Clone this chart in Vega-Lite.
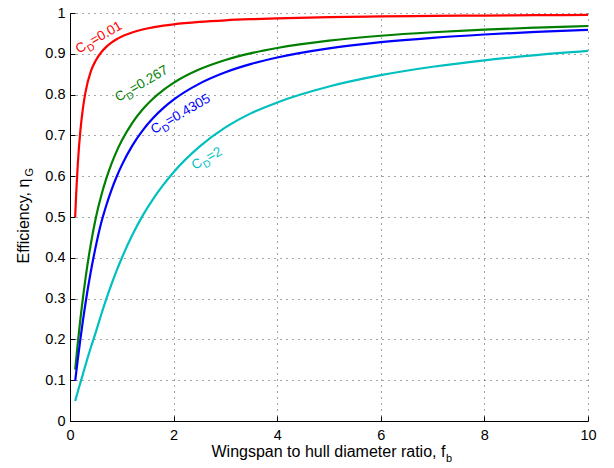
{
  "$schema": "https://vega.github.io/schema/vega-lite/v6.json",
  "width": 518,
  "height": 408,
  "autosize": {"type": "none"},
  "padding": {"left": 70, "top": 13, "right": 26, "bottom": 47},
  "background": "white",
  "config": {
    "view": {"stroke": null},
    "font": "Liberation Sans",
    "text": {"font": "Liberation Sans"},
    "axis": {
      "labelFont": "Liberation Sans",
      "titleFont": "Liberation Sans",
      "labelColor": "#000",
      "titleColor": "#000",
      "titleFontWeight": "normal",
      "domainColor": "#000",
      "tickColor": "#000",
      "labelFlush": false,
      "labelOverlap": false
    }
  },
  "datasets": {
    "curves": [
      {"s": "0.01", "f": 0.1, "e": 0.5},
      {"s": "0.01", "f": 0.12, "e": 0.559},
      {"s": "0.01", "f": 0.15, "e": 0.6288},
      {"s": "0.01", "f": 0.2, "e": 0.7112},
      {"s": "0.01", "f": 0.25, "e": 0.767},
      {"s": "0.01", "f": 0.3, "e": 0.8066},
      {"s": "0.01", "f": 0.4, "e": 0.8564},
      {"s": "0.01", "f": 0.5, "e": 0.8841},
      {"s": "0.01", "f": 0.6, "e": 0.9031},
      {"s": "0.01", "f": 0.7, "e": 0.917},
      {"s": "0.01", "f": 0.8, "e": 0.9275},
      {"s": "0.01", "f": 0.9, "e": 0.9357},
      {"s": "0.01", "f": 1.0, "e": 0.9424},
      {"s": "0.01", "f": 1.2, "e": 0.9523},
      {"s": "0.01", "f": 1.4, "e": 0.9595},
      {"s": "0.01", "f": 1.6, "e": 0.9648},
      {"s": "0.01", "f": 1.8, "e": 0.9689},
      {"s": "0.01", "f": 2.0, "e": 0.9723},
      {"s": "0.01", "f": 2.5, "e": 0.9782},
      {"s": "0.01", "f": 3.0, "e": 0.9821},
      {"s": "0.01", "f": 3.5, "e": 0.9848},
      {"s": "0.01", "f": 4.0, "e": 0.9869},
      {"s": "0.01", "f": 5.0, "e": 0.9897},
      {"s": "0.01", "f": 6.0, "e": 0.9916},
      {"s": "0.01", "f": 7.0, "e": 0.9929},
      {"s": "0.01", "f": 8.0, "e": 0.9938},
      {"s": "0.01", "f": 9.0, "e": 0.9946},
      {"s": "0.01", "f": 10.0, "e": 0.9952},
      {"s": "0.267", "f": 0.1, "e": 0.1261},
      {"s": "0.267", "f": 0.15, "e": 0.1901},
      {"s": "0.267", "f": 0.2, "e": 0.2492},
      {"s": "0.267", "f": 0.25, "e": 0.3024},
      {"s": "0.267", "f": 0.3, "e": 0.3504},
      {"s": "0.267", "f": 0.4, "e": 0.4324},
      {"s": "0.267", "f": 0.5, "e": 0.499},
      {"s": "0.267", "f": 0.6, "e": 0.551},
      {"s": "0.267", "f": 0.7, "e": 0.5939},
      {"s": "0.267", "f": 0.8, "e": 0.6301},
      {"s": "0.267", "f": 0.9, "e": 0.6608},
      {"s": "0.267", "f": 1.0, "e": 0.6872},
      {"s": "0.267", "f": 1.2, "e": 0.7301},
      {"s": "0.267", "f": 1.4, "e": 0.7633},
      {"s": "0.267", "f": 1.6, "e": 0.7897},
      {"s": "0.267", "f": 1.8, "e": 0.8111},
      {"s": "0.267", "f": 2.0, "e": 0.8288},
      {"s": "0.267", "f": 2.5, "e": 0.8619},
      {"s": "0.267", "f": 3.0, "e": 0.8849},
      {"s": "0.267", "f": 3.5, "e": 0.9016},
      {"s": "0.267", "f": 4.0, "e": 0.9143},
      {"s": "0.267", "f": 5.0, "e": 0.9322},
      {"s": "0.267", "f": 6.0, "e": 0.9443},
      {"s": "0.267", "f": 7.0, "e": 0.9528},
      {"s": "0.267", "f": 8.0, "e": 0.9592},
      {"s": "0.267", "f": 9.0, "e": 0.9641},
      {"s": "0.267", "f": 10.0, "e": 0.9681},
      {"s": "0.4305", "f": 0.1, "e": 0.0983},
      {"s": "0.4305", "f": 0.15, "e": 0.1506},
      {"s": "0.4305", "f": 0.2, "e": 0.2002},
      {"s": "0.4305", "f": 0.25, "e": 0.2466},
      {"s": "0.4305", "f": 0.3, "e": 0.2893},
      {"s": "0.4305", "f": 0.4, "e": 0.3652},
      {"s": "0.4305", "f": 0.5, "e": 0.4292},
      {"s": "0.4305", "f": 0.6, "e": 0.4845},
      {"s": "0.4305", "f": 0.7, "e": 0.5283},
      {"s": "0.4305", "f": 0.8, "e": 0.566},
      {"s": "0.4305", "f": 0.9, "e": 0.5987},
      {"s": "0.4305", "f": 1.0, "e": 0.6272},
      {"s": "0.4305", "f": 1.2, "e": 0.6744},
      {"s": "0.4305", "f": 1.4, "e": 0.7118},
      {"s": "0.4305", "f": 1.6, "e": 0.7419},
      {"s": "0.4305", "f": 1.8, "e": 0.7667},
      {"s": "0.4305", "f": 2.0, "e": 0.7875},
      {"s": "0.4305", "f": 2.5, "e": 0.8269},
      {"s": "0.4305", "f": 3.0, "e": 0.8547},
      {"s": "0.4305", "f": 3.5, "e": 0.8752},
      {"s": "0.4305", "f": 4.0, "e": 0.8909},
      {"s": "0.4305", "f": 5.0, "e": 0.9133},
      {"s": "0.4305", "f": 6.0, "e": 0.9284},
      {"s": "0.4305", "f": 7.0, "e": 0.9392},
      {"s": "0.4305", "f": 8.0, "e": 0.9473},
      {"s": "0.4305", "f": 9.0, "e": 0.9537},
      {"s": "0.4305", "f": 10.0, "e": 0.9587},
      {"s": "2", "f": 0.1, "e": 0.049},
      {"s": "2", "f": 0.15, "e": 0.0718},
      {"s": "2", "f": 0.2, "e": 0.0935},
      {"s": "2", "f": 0.25, "e": 0.1153},
      {"s": "2", "f": 0.3, "e": 0.1374},
      {"s": "2", "f": 0.4, "e": 0.1795},
      {"s": "2", "f": 0.5, "e": 0.2186},
      {"s": "2", "f": 0.6, "e": 0.2599},
      {"s": "2", "f": 0.7, "e": 0.2986},
      {"s": "2", "f": 0.8, "e": 0.3347},
      {"s": "2", "f": 0.9, "e": 0.3684},
      {"s": "2", "f": 1.0, "e": 0.3994},
      {"s": "2", "f": 1.2, "e": 0.4551},
      {"s": "2", "f": 1.4, "e": 0.5028},
      {"s": "2", "f": 1.6, "e": 0.5434},
      {"s": "2", "f": 1.8, "e": 0.5788},
      {"s": "2", "f": 2.0, "e": 0.6099},
      {"s": "2", "f": 2.5, "e": 0.6724},
      {"s": "2", "f": 3.0, "e": 0.7195},
      {"s": "2", "f": 3.5, "e": 0.7546},
      {"s": "2", "f": 4.0, "e": 0.7807},
      {"s": "2", "f": 5.0, "e": 0.8198},
      {"s": "2", "f": 6.0, "e": 0.8476},
      {"s": "2", "f": 7.0, "e": 0.8683},
      {"s": "2", "f": 8.0, "e": 0.8841},
      {"s": "2", "f": 9.0, "e": 0.8968},
      {"s": "2", "f": 10.0, "e": 0.907}
    ],
    "labels": [
      {"s": "0.01", "f": 0.17, "e": 0.9, "t": "=0.01"},
      {"s": "0.267", "f": 0.93, "e": 0.782, "t": "=0.267"},
      {"s": "0.4305", "f": 1.62, "e": 0.703, "t": "=0.4305"},
      {"s": "2", "f": 2.41, "e": 0.615, "t": "=2"}
    ]
  },
  "layer": [
    {
      "data": {"name": "curves"},
      "mark": {"type": "line", "strokeWidth": 2.2, "interpolate": "monotone", "clip": true},
      "encoding": {
        "x": {
          "field": "f", "type": "quantitative",
          "scale": {"domain": [0, 10], "nice": false, "zero": false},
          "axis": {
            "title": "Wingspan to hull diameter ratio, f",
            "values": [0, 2, 4, 6, 8, 10],
            "grid": true, "gridDash": [1, 5], "gridColor": "#000", "gridOpacity": 0.7, "gridWidth": 1,
            "tickSize": -5, "tickWidth": 1, "labelPadding": 12, "labelFontSize": 14.5,
            "titleFontSize": 16, "titleX": 141, "titleY": 35, "titleAlign": "left", "titleBaseline": "alphabetic"
          }
        },
        "y": {
          "field": "e", "type": "quantitative",
          "scale": {"domain": [0, 1], "nice": false, "zero": false},
          "axis": {
            "title": "Efficiency, η",
            "values": [0, 0.1, 0.2, 0.3, 0.4, 0.5, 0.6, 0.7, 0.8, 0.9, 1],
            "format": "~g",
            "grid": true, "gridDash": [1, 5], "gridColor": "#000", "gridOpacity": 0.7, "gridWidth": 1,
            "tickSize": -5, "tickWidth": 1, "labelPadding": 10, "labelFontSize": 14.5,
            "titleFontSize": 16, "titleAngle": 270, "titleX": -42, "titleY": 250, "titleAlign": "left", "titleBaseline": "alphabetic"
          }
        },
        "color": {
          "field": "s", "type": "nominal",
          "scale": {"domain": ["0.01", "0.267", "0.4305", "2"], "range": ["#ff0000", "#008000", "#0000ff", "#00bfbf"]},
          "legend": null
        }
      }
    },
    {
      "data": {"name": "labels"},
      "mark": {"type": "text", "text": "C", "angle": 330, "align": "left", "baseline": "alphabetic", "fontSize": 13.5},
      "encoding": {
        "x": {"field": "f", "type": "quantitative", "axis": null},
        "y": {"field": "e", "type": "quantitative", "axis": null},
        "color": {"field": "s", "type": "nominal", "legend": null}
      }
    },
    {
      "data": {"name": "labels"},
      "mark": {"type": "text", "text": "D", "angle": 330, "align": "left", "baseline": "alphabetic", "fontSize": 10, "dx": 10, "dy": 4},
      "encoding": {
        "x": {"field": "f", "type": "quantitative", "axis": null},
        "y": {"field": "e", "type": "quantitative", "axis": null},
        "color": {"field": "s", "type": "nominal", "legend": null}
      }
    },
    {
      "data": {"name": "labels"},
      "mark": {"type": "text", "angle": 330, "align": "left", "baseline": "alphabetic", "fontSize": 13.5, "dx": 17},
      "encoding": {
        "x": {"field": "f", "type": "quantitative", "axis": null},
        "y": {"field": "e", "type": "quantitative", "axis": null},
        "text": {"field": "t", "type": "nominal"},
        "color": {"field": "s", "type": "nominal", "legend": null}
      }
    },
    {
      "data": {"name": "labels"},
      "mark": {"type": "point", "opacity": 0},
      "encoding": {
        "x": {
          "field": "f", "type": "quantitative",
          "axis": {"orient": "bottom", "title": "b", "domain": false, "ticks": false, "labels": false, "grid": false,
                   "titleFontSize": 11, "titleX": 375.5, "titleY": 40, "titleAlign": "left", "titleBaseline": "alphabetic"}
        },
        "y": {
          "field": "e", "type": "quantitative",
          "axis": {"orient": "left", "title": "G", "domain": false, "ticks": false, "labels": false, "grid": false,
                   "titleFontSize": 11, "titleAngle": 270, "titleX": -38, "titleY": 163, "titleAlign": "left", "titleBaseline": "alphabetic"}
        }
      }
    }
  ],
  "resolve": {"axis": {"x": "independent", "y": "independent"}}
}
